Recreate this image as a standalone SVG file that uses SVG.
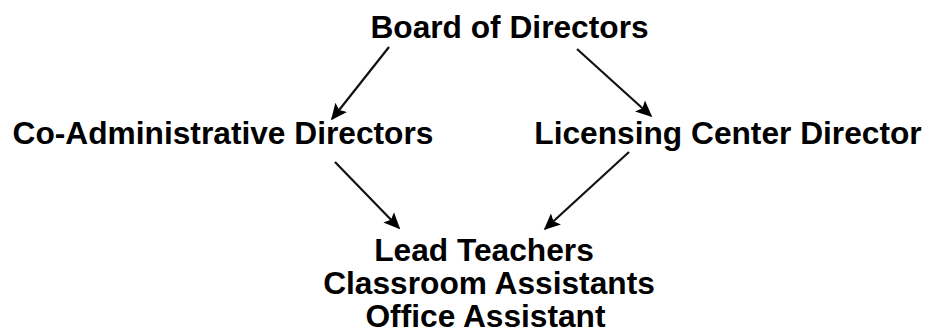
<svg xmlns="http://www.w3.org/2000/svg" width="928" height="333" viewBox="0 0 928 333">
  <style>
    .lbl { font-family: "Liberation Sans", Arial, sans-serif; font-weight: bold; font-size: 31.7px; fill: #000; text-anchor: middle; }
    .edge { stroke: #111; stroke-width: 2.2; fill: none; marker-end: url(#head); }
  </style>
  <defs>
    <marker id="head" viewBox="0 0 10 10" refX="9" refY="5" markerWidth="7.5" markerHeight="7.5" markerUnits="strokeWidth" orient="auto">
      <path d="M0,0.5 L10,5 L0,9.5 L2,5 Z" fill="#000"/>
    </marker>
  </defs>
  <rect width="928" height="333" fill="#fff"/>

  <g id="connectors">
    <line class="edge" x1="389" y1="47" x2="332" y2="119"/>
    <line class="edge" x1="577" y1="49" x2="651" y2="116"/>
    <line class="edge" x1="335" y1="162" x2="399" y2="228"/>
    <line class="edge" x1="629" y1="152" x2="545" y2="229"/>
  </g>

  <g id="board">
    <text class="lbl" x="509.5" y="38">Board of Directors</text>
  </g>
  <g id="co-admin">
    <text class="lbl" x="223" y="144">Co-Administrative Directors</text>
  </g>
  <g id="licensing">
    <text class="lbl" x="728" y="144">Licensing Center Director</text>
  </g>
  <g id="staff">
    <text class="lbl" x="484" y="261">Lead Teachers</text>
    <text class="lbl" x="489" y="294">Classroom Assistants</text>
    <text class="lbl" x="485.5" y="327">Office Assistant</text>
  </g>
</svg>
